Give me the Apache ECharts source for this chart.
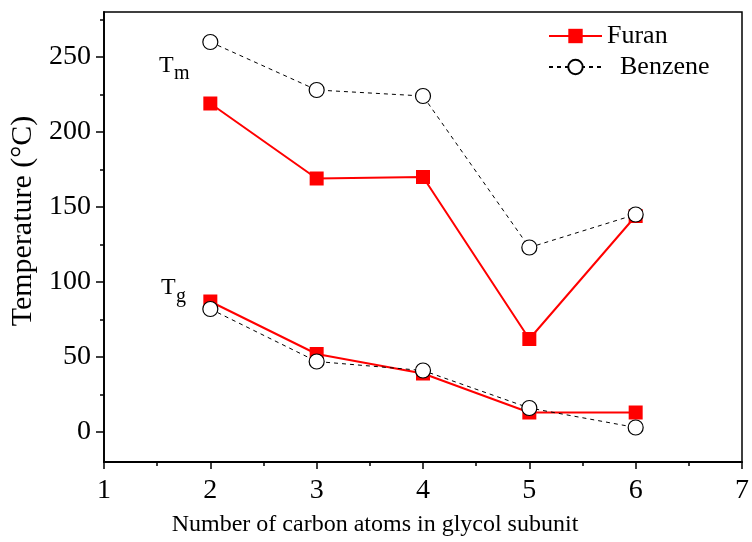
<!DOCTYPE html>
<html>
<head>
<meta charset="utf-8">
<script src="https://cdn.jsdelivr.net/npm/echarts@6/dist/echarts.min.js"></script>
<style>html,body{margin:0;padding:0;background:#fff}#c{width:752px;height:542px}</style>
</head>
<body>
<div id="c"></div>
<script>
const carbons = [2, 3, 4, 5, 6];
const furanTm = [219, 169, 170, 62, 144];
const furanTg = [87, 52, 39, 13, 13];
const benzeneTm = [260, 228, 224, 123, 145];
const benzeneTg = [82, 47, 41, 16, 3];
const yMajorTicks = [0, 50, 100, 150, 200, 250];
const yMinorTicks = [25, 75, 125, 175, 225, 275];

const FONT = '"Liberation Serif", "Times New Roman", serif';
const pair = (xs, ys) => xs.map((x, i) => [x, ys[i]]);

const chart = echarts.init(document.getElementById('c'));
const furanStyle = {
  type: 'line', name: 'Furan', symbol: 'rect', symbolSize: 14,
  itemStyle: { color: '#ff0000' },
  lineStyle: { color: '#ff0000', width: 2 },
  z: 2
};
const benzStyle = {
  type: 'line', name: 'Benzene', symbol: 'circle', symbolSize: 15,
  itemStyle: { color: '#ffffff', borderColor: '#000', borderWidth: 1.2 },
  lineStyle: { color: '#000', width: 1, type: [4, 4] },
  z: 3
};
chart.setOption({
  animation: false,
  backgroundColor: '#fff',
  grid: { left: 103, right: 4, top: 12, bottom: 80, show: true, borderColor: '#000', borderWidth: 1.5, backgroundColor: 'transparent' },
  legend: {
    data: ['Furan', 'Benzene'], orient: 'vertical', left: 543, top: 18,
    itemWidth: 53, itemHeight: 18, itemGap: 5,
    textStyle: { fontFamily: FONT, fontSize: 26, color: '#000' },
    formatter: n => n === 'Benzene' ? '  Benzene' : n
  },
  xAxis: {
    type: 'value', min: 1, max: 7, interval: 1,
    name: 'Number of carbon atoms in glycol subunit', nameLocation: 'middle', nameGap: 51,
    nameTextStyle: { fontFamily: FONT, fontSize: 24, color: '#000', padding: [0, 96, 0, 0] },
    axisLine: { onZero: false, lineStyle: { color: '#000', width: 1.8 } },
    axisTick: { inside: false, length: 7, lineStyle: { color: '#000', width: 1.5 } },
    minorTick: { show: true, splitNumber: 2, length: 4, lineStyle: { color: '#000', width: 1.5 } },
    axisLabel: { fontFamily: FONT, fontSize: 28, color: '#000', margin: 15 },
    splitLine: { show: false }
  },
  yAxis: [{
    type: 'value', min: -20, max: 280,
    name: 'Temperature (\u00B0C)', nameLocation: 'middle', nameGap: 66, nameRotate: 90,
    nameTextStyle: { fontFamily: FONT, fontSize: 30, color: '#000', padding: [0, 0, 0, 32] },
    axisLine: { show: true, onZero: false, lineStyle: { color: '#000', width: 1.8 } },
    axisTick: { show: true, length: 8, customValues: yMajorTicks, lineStyle: { color: '#000', width: 1.5 } },
    axisLabel: { fontFamily: FONT, fontSize: 28, color: '#000', margin: 13, customValues: yMajorTicks },
    splitLine: { show: false }
  }, {
    type: 'value', min: -20, max: 280, position: 'left',
    axisLine: { show: false, onZero: false },
    axisTick: { show: true, length: 4, customValues: yMinorTicks, lineStyle: { color: '#000', width: 1.5 } },
    axisLabel: { show: false, customValues: yMinorTicks },
    splitLine: { show: false }
  }],
  series: [
    Object.assign({}, furanStyle, { data: pair(carbons, furanTm) }),
    Object.assign({}, furanStyle, { data: pair(carbons, furanTg) }),
    Object.assign({}, benzStyle, { data: pair(carbons, benzeneTm) }),
    Object.assign({}, benzStyle, { data: pair(carbons, benzeneTg) })
  ],
  graphic: [
    { type: 'text', left: 159, top: 54, style: { text: 'T', font: '24px ' + FONT, fill: '#000' } },
    { type: 'text', left: 174, top: 64, style: { text: 'm', font: '20px ' + FONT, fill: '#000' } },
    { type: 'text', left: 161, top: 276, style: { text: 'T', font: '24px ' + FONT, fill: '#000' } },
    { type: 'text', left: 176, top: 287, style: { text: 'g', font: '20px ' + FONT, fill: '#000' } }
  ]
});
</script>
</body>
</html>
